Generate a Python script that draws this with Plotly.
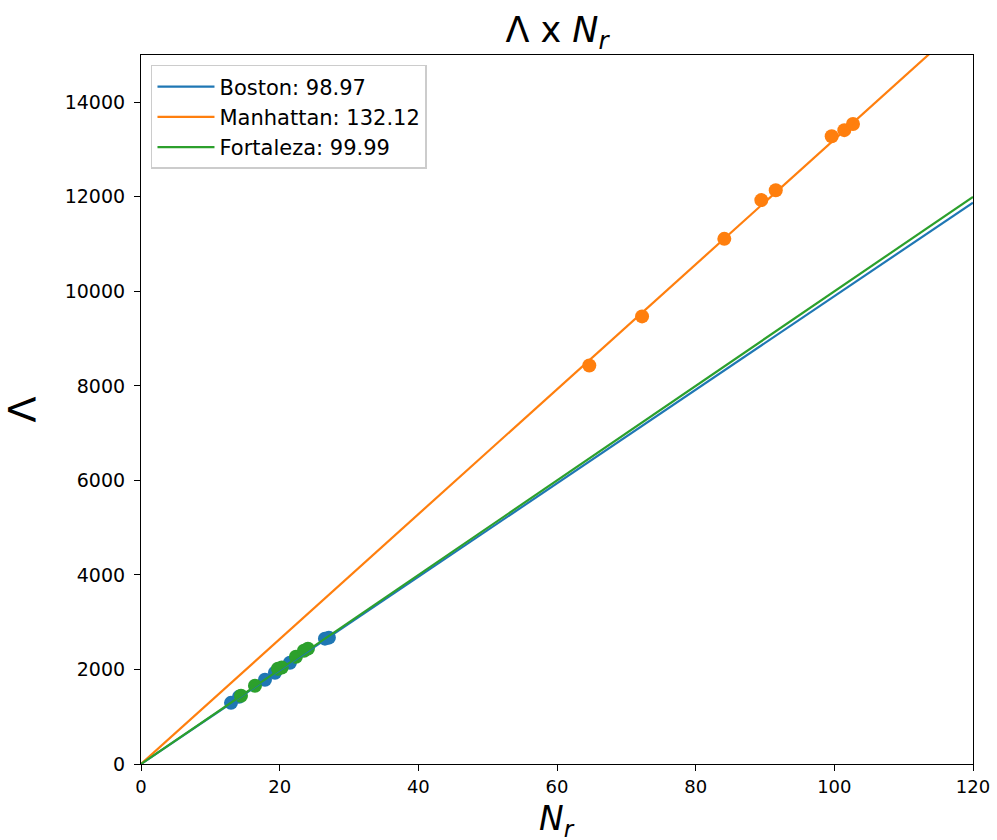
import plotly.graph_objects as go

# Data
boston_x = [12.98, 14.13, 17.88, 19.32, 21.48, 26.53, 27.10]
boston_y = [1294, 1421, 1782, 1930, 2143, 2652, 2673]
manhattan_x = [64.66, 72.27, 84.13, 89.47, 91.55, 99.62, 101.44, 102.69]
manhattan_y = [8430, 9470, 11110, 11930, 12140, 13280, 13410, 13540]
fortaleza_x = [14.42, 16.44, 19.75, 20.30, 22.35, 23.50, 24.08]
fortaleza_y = [1443, 1655, 2015, 2040, 2270, 2397, 2440]

names = ["Boston", "Manhattan", "Fortaleza"]
slopes = [98.97, 132.12, 99.99]
colors = ["#1f77b4", "#ff7f0e", "#2ca02c"]
line_x = [0, 120]

xs = [boston_x, manhattan_x, fortaleza_x]
ys = [boston_y, manhattan_y, fortaleza_y]

fig = go.Figure()
for x, y, c in zip(xs, ys, colors):
    fig.add_trace(go.Scatter(x=x, y=y, mode="markers", showlegend=False,
                             marker=dict(color=c, size=14, line=dict(width=0))))
for n, s, c in zip(names, slopes, colors):
    fig.add_trace(go.Scatter(x=line_x, y=[s * v for v in line_x], mode="lines",
                             name=f"{n}: {s:.2f}", line=dict(color=c, width=2.2)))

font = "DejaVu Sans, sans-serif"
fig.update_layout(
    width=997, height=840,
    margin=dict(l=141, r=24, t=55, b=76),
    plot_bgcolor="white", paper_bgcolor="white",
    font=dict(family=font, size=18, color="black"),
    title=dict(text="Λ x <i>N</i><sub><i>r</i></sub>", x=0.5, xref="paper",
               xanchor="center", y=0.965, yanchor="middle",
               font=dict(size=35, family=font)),
    legend=dict(x=0.012, y=0.986, xanchor="left", yanchor="top",
                bgcolor="rgba(255,255,255,0.8)", bordercolor="#cccccc", borderwidth=1.5,
                font=dict(size=21, family=font), itemwidth=57, tracegroupgap=0),
    xaxis=dict(range=[0, 120], tickvals=[0, 20, 40, 60, 80, 100, 120],
               showline=True, linecolor="black", linewidth=1.2, mirror=True,
               ticks="outside", ticklen=6, tickcolor="black", showgrid=False,
               zeroline=False, tickfont=dict(size=18), automargin=False),
    yaxis=dict(range=[0, 15000], tickvals=list(range(0, 14001, 2000)),
               showline=True, linecolor="black", linewidth=1.2, mirror=True,
               ticks="outside", ticklen=6, tickcolor="black", showgrid=False,
               zeroline=False, tickfont=dict(size=19), tickformat="d",
               ticklabelstandoff=5, automargin=False,
               title=dict(text="Λ", font=dict(size=38), standoff=18)),
    annotations=[dict(text="<i>N</i><sub><i>r</i></sub>", xref="paper", yref="paper",
                      x=0.5, y=-0.046, xanchor="center", yanchor="top",
                      showarrow=False, font=dict(size=33, family=font))],
)

fig.write_html("out.html")
